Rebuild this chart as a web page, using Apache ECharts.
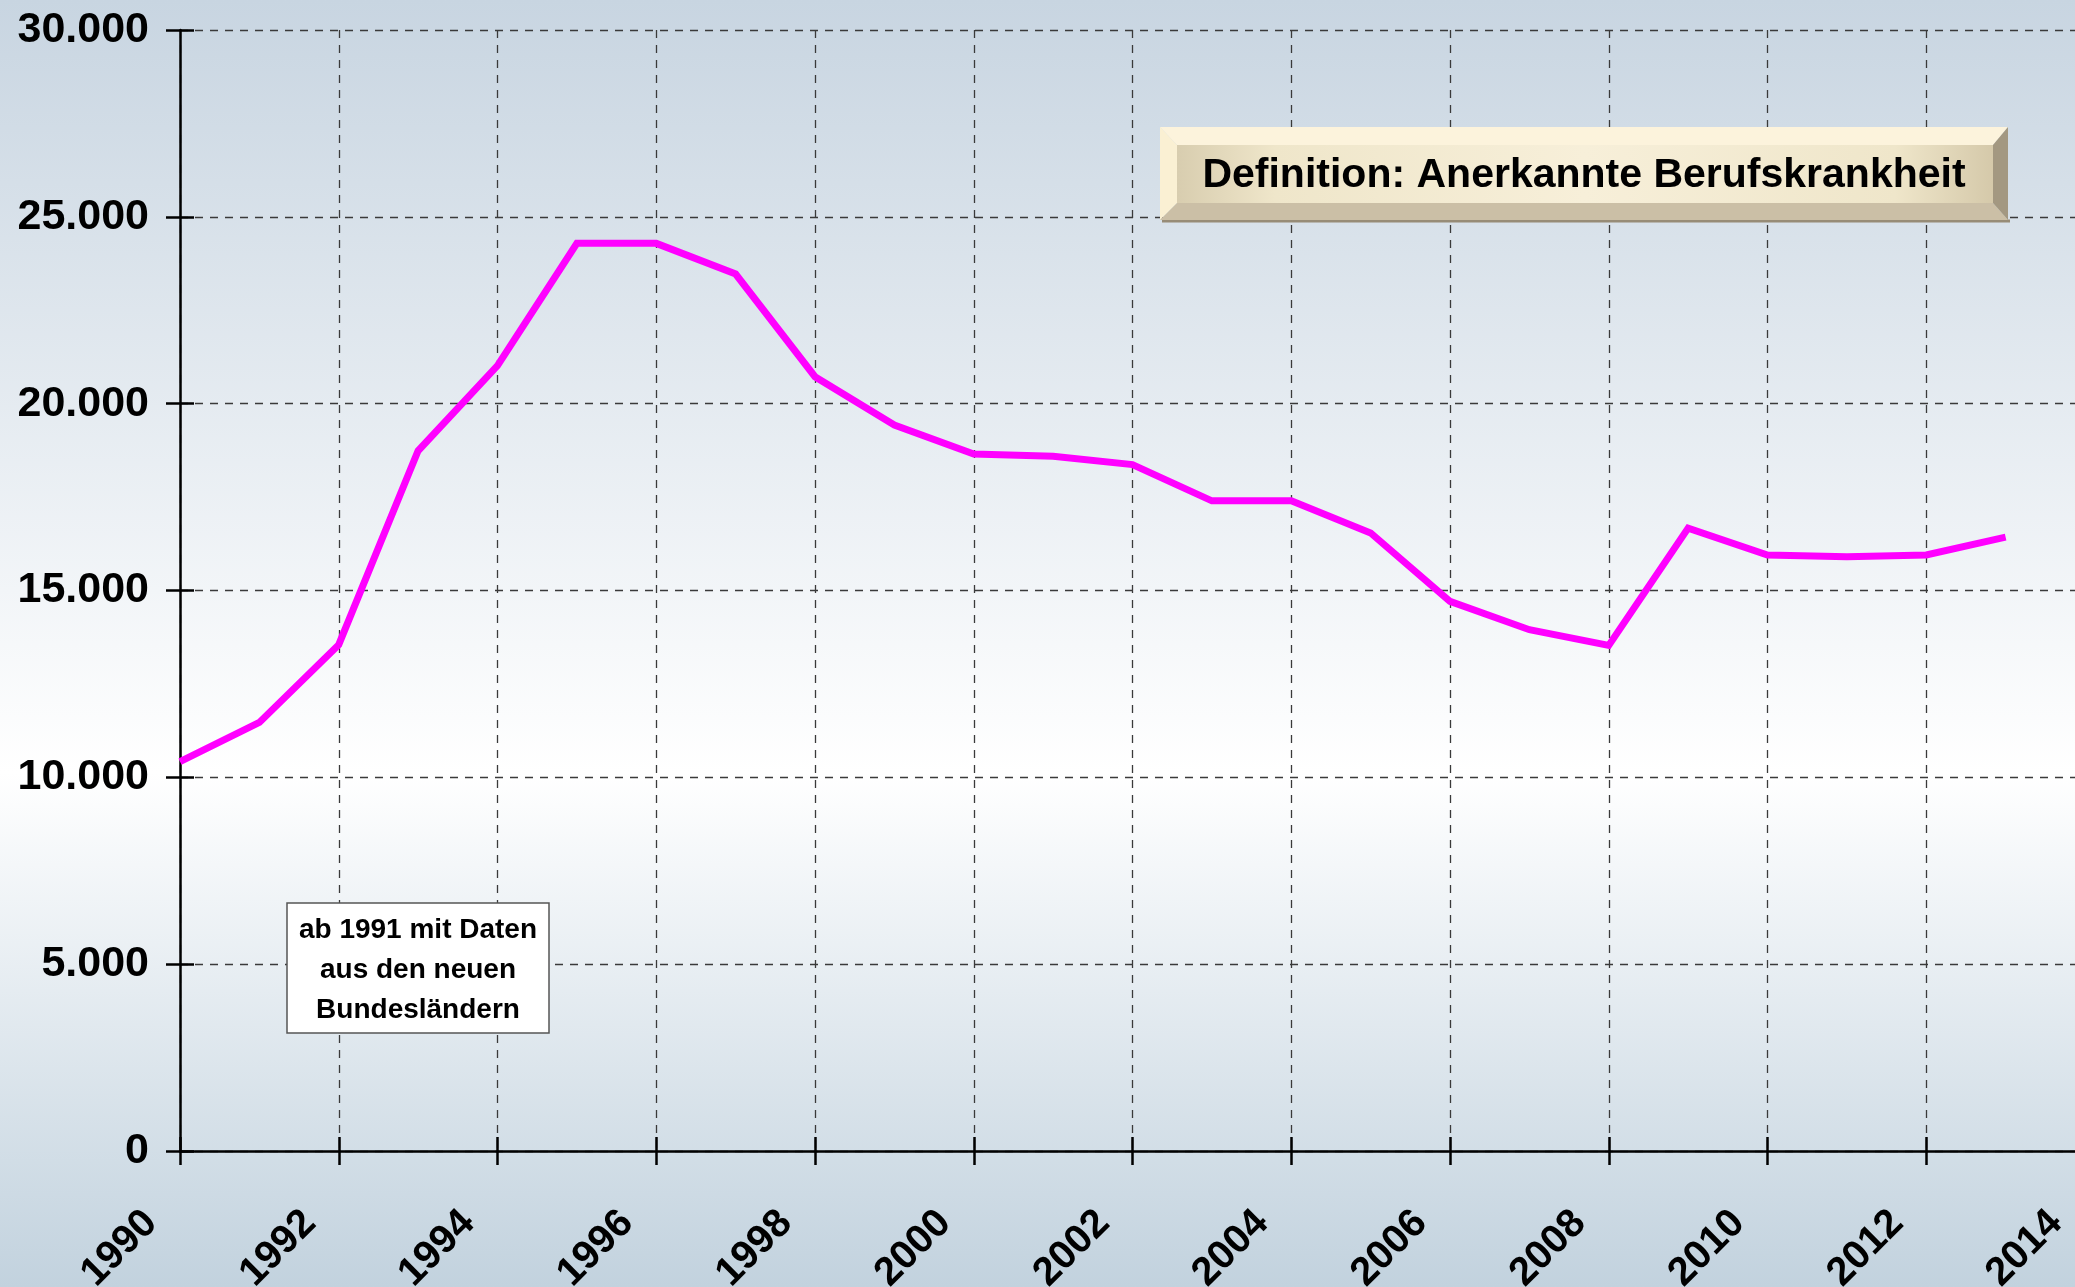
<!doctype html>
<html>
<head>
    <meta charset="UTF-8">
    <title>Anerkannte Berufskrankheiten</title>
    <script src="https://cdn.jsdelivr.net/npm/echarts@6/dist/echarts.min.js"></script>
    <style>
        html, body {
            margin: 0;
            padding: 0;
        }
        #chart {
            width: 2075px;
            height: 1287px;
            background: linear-gradient(to bottom, #c8d5e1 0%, #ffffff 60%, #c2d2de 100%);
        }
    </style>
</head>
<body>
<div id="chart"></div>
<script type="text/javascript">
    // Jahre und Werte
    var years = [1990, 1991, 1992, 1993, 1994, 1995, 1996, 1997, 1998, 1999, 2000, 2001,
        2002, 2003, 2004, 2005, 2006, 2007, 2008, 2009, 2010, 2011, 2012, 2013];
    var cases = [10420, 11470, 13550, 18740, 21020, 24290, 24290, 23470, 20720, 19430, 18650, 18590,
        18370, 17400, 17400, 16540, 14710, 13950, 13530, 16670, 15950, 15900, 15950, 16430];
    var boxTitle = 'Definition: Anerkannte Berufskrankheit';
    var noteLines = ['ab 1991 mit Daten', 'aus den neuen', 'Bundesländern'];

    var font = "'Liberation Sans', Arial, Helvetica, sans-serif";
    var myChart = echarts.init(document.getElementById('chart'));

    var points = [];
    for (var i = 0; i < years.length; i++) {
        points.push([years[i], cases[i]]);
    }

    // Tausenderpunkt
    function punkt(v) {
        return String(v).replace(/\B(?=(\d{3})+(?!\d))/g, '.');
    }

    var dash = {color: '#3a3a3a', width: 1.3, type: [8, 7]};
    var tickStyle = {color: '#000', width: 2.5};

    var option = {
        animation: false,
        grid: {left: 180, top: 30, width: 1905, height: 1121, outerBoundsMode: 'none', containLabel: false},
        xAxis: [{
            type: 'value', min: 1990, max: 2014, interval: 2, position: 'bottom',
            axisLine: {show: true, onZero: false, lineStyle: tickStyle},
            axisTick: {show: false},
            splitLine: {show: true, lineStyle: dash},
            axisLabel: {
                rotate: 45, margin: 37, padding: [0, 41, 0, 0],
                color: '#000', fontSize: 40, fontWeight: 'bold', fontFamily: font,
                showMinLabel: true, showMaxLabel: true,
                formatter: function (v) { return String(v); }
            }
        }, {
            // nur Striche, die die Achse kreuzen
            type: 'value', min: 1990, max: 2014, interval: 2, position: 'bottom', offset: -14,
            axisLine: {show: false, onZero: false},
            axisTick: {show: true, length: 28, lineStyle: tickStyle},
            splitLine: {show: false},
            axisLabel: {show: false}
        }],
        yAxis: [{
            type: 'value', min: 0, max: 30000, interval: 5000, position: 'left',
            axisLine: {show: true, onZero: false, lineStyle: tickStyle},
            axisTick: {show: false},
            splitLine: {show: true, lineStyle: dash},
            axisLabel: {
                margin: 31, color: '#000', fontSize: 43, fontWeight: 'bold', fontFamily: font,
                formatter: punkt
            }
        }, {
            type: 'value', min: 0, max: 30000, interval: 5000, position: 'left', offset: -14,
            axisLine: {show: false, onZero: false},
            axisTick: {show: true, length: 28, lineStyle: tickStyle},
            splitLine: {show: false},
            axisLabel: {show: false}
        }],
        series: [{
            type: 'line',
            data: points,
            showSymbol: false,
            lineStyle: {color: '#ff00ff', width: 7, join: 'miter'},
            z: 5
        }],
        graphic: [
            // Titelkasten mit Fase
            {type: 'line', shape: {x1: 1162, y1: 221, x2: 2010, y2: 221}, style: {stroke: '#978c77', lineWidth: 3}, z: 10},
            {type: 'polygon', shape: {points: [[1160, 127], [2008, 127], [1993, 145], [1177, 145]]}, style: {fill: '#fcf3dc'}, z: 10},
            {type: 'polygon', shape: {points: [[1160, 127], [1177, 145], [1177, 203], [1160, 220]]}, style: {fill: '#faf0d3'}, z: 10},
            {type: 'polygon', shape: {points: [[1160, 220], [1177, 203], [1993, 203], [2008, 220]]}, style: {fill: '#cbbfa6'}, z: 10},
            {type: 'polygon', shape: {points: [[2008, 127], [2008, 220], [1993, 203], [1993, 145]]}, style: {fill: '#a39881'}, z: 10},
            {
                type: 'rect', shape: {x: 1177, y: 145, width: 816, height: 58}, z: 10,
                style: {
                    fill: new echarts.graphic.LinearGradient(0, 0, 1, 0, [
                        {offset: 0, color: '#d8cdaf'},
                        {offset: 0.12, color: '#efe6ca'},
                        {offset: 0.5, color: '#f7efd9'},
                        {offset: 0.88, color: '#efe6ca'},
                        {offset: 1, color: '#d5c9aa'}
                    ])
                }
            },
            {
                type: 'text', x: 1584, y: 176, z: 11,
                style: {
                    text: boxTitle, fill: '#000', fontSize: 41, fontWeight: 'bold', fontFamily: font,
                    align: 'center', verticalAlign: 'middle'
                }
            },
            // Hinweis
            {
                type: 'rect', shape: {x: 287, y: 903, width: 262, height: 130}, z: 10,
                style: {fill: '#fff', stroke: '#555', lineWidth: 1.5}
            },
            {
                type: 'text', x: 418, y: 970, z: 11,
                style: {
                    text: noteLines.join('\n'), fill: '#000', fontSize: 28, fontWeight: 'bold', fontFamily: font,
                    align: 'center', verticalAlign: 'middle', lineHeight: 40
                }
            }
        ]
    };
    myChart.setOption(option);
</script>
</body>
</html>
